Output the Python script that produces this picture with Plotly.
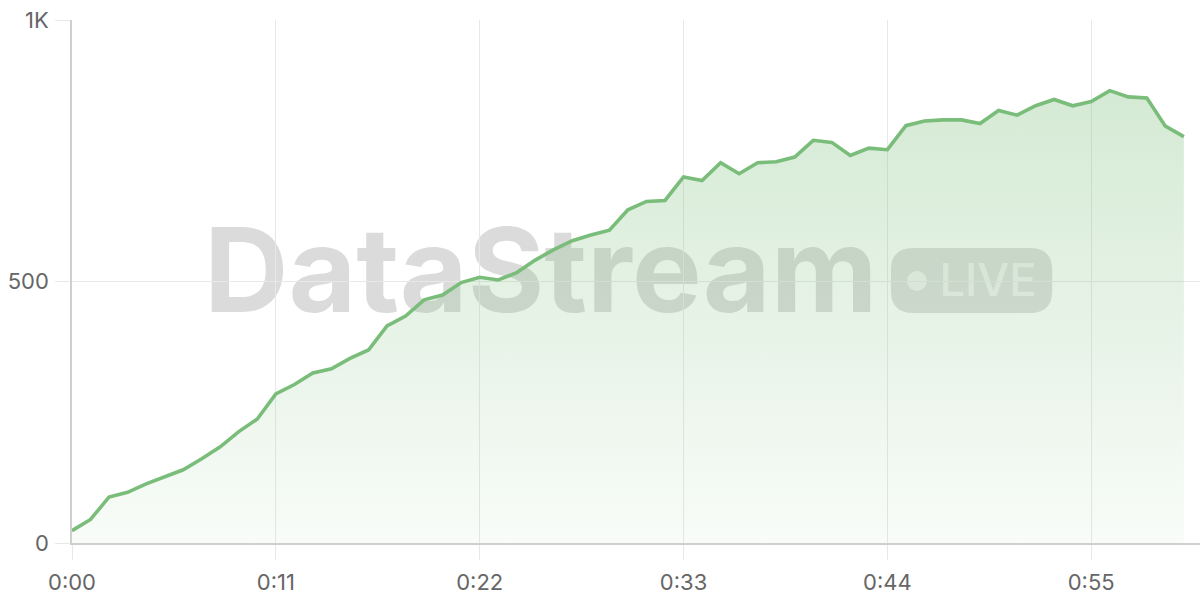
import plotly.graph_objects as go

# ---- data ----
seconds = list(range(61))
values = [23.5, 45, 88, 97, 113, 126, 140, 161, 184, 213, 237, 285, 303, 325, 333,
          353, 369, 415, 434, 465, 474, 498, 508, 503, 517, 541, 561, 578, 589, 598,
          637, 653, 655, 700, 693, 727, 706, 727, 729, 738, 770, 766, 741, 755, 752,
          798, 807, 809, 809, 802, 827, 818, 836, 848, 836, 844, 865, 853, 851, 797, 777]
x_tick_vals = [0, 11, 22, 33, 44, 55]
x_tick_text = ["0:00", "0:11", "0:22", "0:33", "0:44", "0:55"]
y_tick_vals = [0, 500, 1000]
y_tick_text = ["0", "500", "1K"]
watermark_text = "DataStream"
badge_text = "LIVE"

LINE = "#7abd7a"
GRID = "#e8e8e8"
AXIS = "#cfcfcf"
TICKFONT = dict(family="Inter, Roboto, sans-serif", size=22, color="#666666")

fig = go.Figure()
fig.add_trace(go.Scatter(
    x=seconds, y=values, mode="lines",
    line=dict(color=LINE, width=3.6),
    fill="tozeroy",
    fillgradient=dict(
        type="vertical",
        start=0, stop=870,
        colorscale=[[0, "rgba(125,190,125,0.05)"], [1, "rgba(125,190,125,0.33)"]],
    ),
    hoverinfo="skip", showlegend=False,
))

# watermark (drawn below the data)
def rounded_rect(x0, y0, x1, y1, rx, ry):
    return (f"M {x0+rx},{y0} L {x1-rx},{y0} Q {x1},{y0} {x1},{y0+ry} "
            f"L {x1},{y1-ry} Q {x1},{y1} {x1-rx},{y1} L {x0+rx},{y1} "
            f"Q {x0},{y1} {x0},{y1-ry} L {x0},{y0+ry} Q {x0},{y0} {x0+rx},{y0} Z")

shapes = [
    dict(type="rect", xref="paper", yref="paper", x0=0.053, x1=0.778, y0=0.41, y1=0.65,
         layer="below", line=dict(width=0), fillcolor="rgba(0,0,0,0)",
         label=dict(text=watermark_text, textposition="middle center",
                    font=dict(family="Inter, sans-serif", size=117, color="rgba(0,0,0,0.14)",
                              weight="bold"))),
    dict(type="path", xref="paper", yref="paper", layer="below",
         path=rounded_rect(0.726, 0.44, 0.869, 0.564, 0.0195, 0.042),
         line=dict(width=0), fillcolor="rgba(0,0,0,0.13)"),
    dict(type="circle", xref="paper", yref="paper", layer="below",
         x0=0.7402, x1=0.7579, y0=0.4818, y1=0.5200,
         line=dict(width=0), fillcolor="rgba(255,255,255,0.6)"),
    dict(type="rect", xref="paper", yref="paper", x0=0.762, x1=0.862, y0=0.444, y1=0.568,
         layer="below", line=dict(width=0), fillcolor="rgba(0,0,0,0)",
         label=dict(text=badge_text, textposition="middle center",
                    font=dict(family="Inter, sans-serif", size=45, color="rgba(255,255,255,0.62)",
                              weight=500))),
]

fig.update_layout(
    width=1200, height=600,
    margin=dict(l=72, r=0, t=20, b=57),
    paper_bgcolor="white", plot_bgcolor="white",
    shapes=shapes,
    xaxis=dict(
        range=[0, 60.87], tickvals=x_tick_vals, ticktext=x_tick_text,
        showgrid=True, gridcolor=GRID, gridwidth=1,
        showline=True, linecolor=AXIS, linewidth=1.5,
        ticks="outside", ticklen=15, tickcolor=GRID, tickwidth=1,
        tickfont=TICKFONT, zeroline=False, fixedrange=True,
        automargin=False, ticklabelstandoff=4,
    ),
    yaxis=dict(
        range=[0, 1000], tickvals=y_tick_vals, ticktext=y_tick_text,
        showgrid=True, gridcolor=GRID, gridwidth=1,
        showline=True, linecolor=AXIS, linewidth=1.5,
        ticks="outside", ticklen=15, tickcolor=GRID, tickwidth=1,
        tickfont=TICKFONT, zeroline=False, ticklabelstandoff=2, fixedrange=True,
        automargin=False,
    ),
)

fig.write_html("out.html", config={"displayModeBar": False},
               post_script="document.body.style.margin='0';document.body.style.overflow='hidden';")
